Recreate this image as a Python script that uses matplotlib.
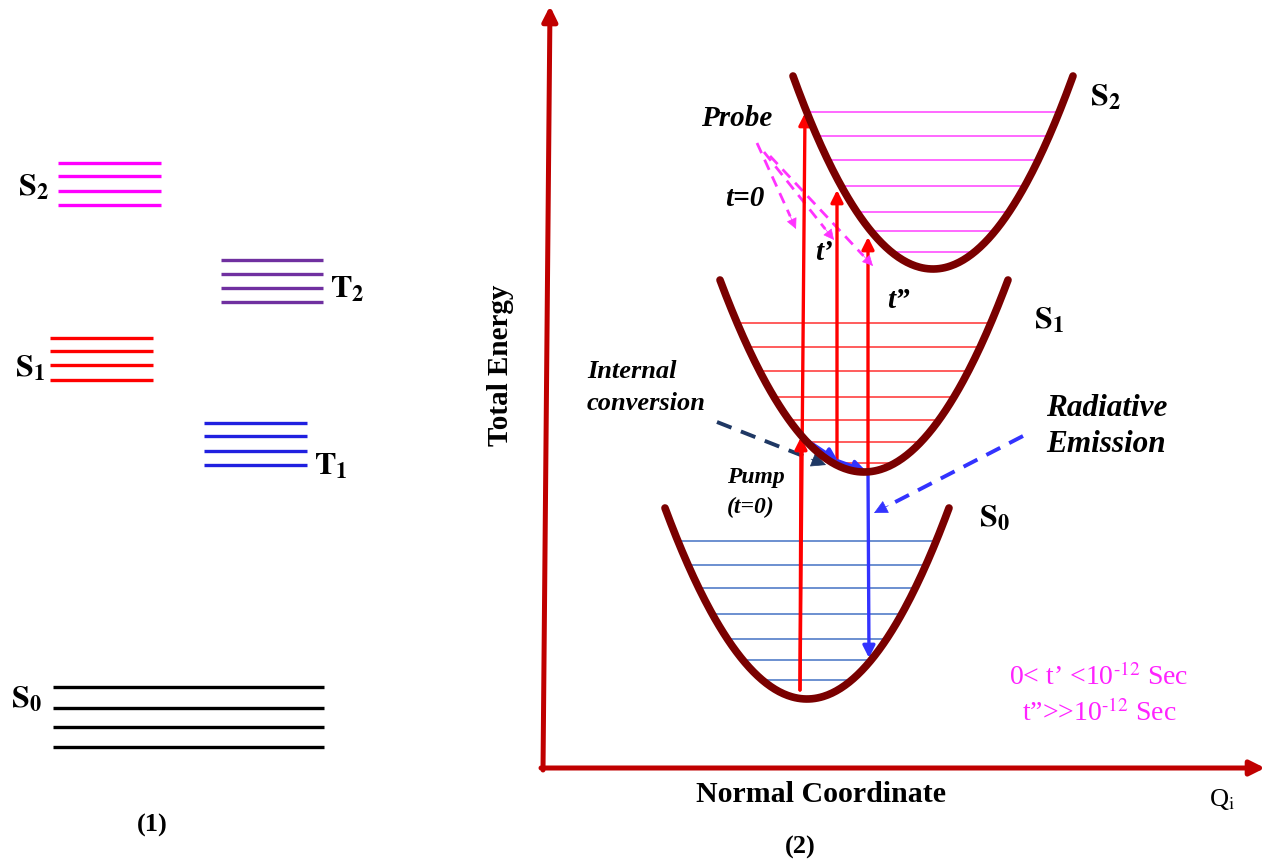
import numpy as np
import matplotlib
matplotlib.use("Agg")
import matplotlib.pyplot as plt

plt.rcParams['font.family'] = ['Liberation Serif', 'DejaVu Serif']
plt.rcParams['mathtext.fontset'] = 'stix'

# ---- panel (1): Jablonski levels (energy = vertical position) ----
s2_levels = [163, 176, 191, 205]
t2_levels = [260, 274, 288, 302]
s1_levels = [338, 351, 365, 380]
t1_levels = [423, 436, 451, 465]
s0_levels = [687, 708, 727, 747]
s2_span = [58, 161]
t2_span = [221, 323]
s1_span = [50, 153]
t1_span = [204, 307]
s0_span = [53, 324]

# ---- panel (2): potential wells and vibrational levels ----
well_names = ['S0', 'S1', 'S2']
well_min_q = [807, 864, 933]
well_min_e = [699, 472, 269]
well_top_e = [508, 280, 76]
well_half = [142, 144, 140]
vib_s0 = [541, 565, 588, 614, 639, 660, 680]
vib_s1 = [323, 347, 371, 397, 420, 442, 463]
vib_s2 = [112, 136, 160, 186, 212, 231, 252]

# transitions (q, start energy, end energy)
pump_q = [800, 805]
pump_e = [690, 113]
probe_q = [837, 868]
probe_start = [463, 472]
probe_end = [190, 237]
emission_q = 868
emission_e = [472, 658]

fig = plt.figure(figsize=(12.7, 8.61), dpi=100)
ax = fig.add_axes([0, 0, 1, 1])
ax.set_xlim(0, 1270)
ax.set_ylim(861, 0)
ax.axis('off')


def arrow(p0, p1, color, lw=2.2, ms=18, ls='-'):
    if ls == '-':
        ax.annotate('', xy=p1, xytext=p0,
                    arrowprops=dict(arrowstyle='-|>', color=color, lw=lw,
                                    mutation_scale=ms, shrinkA=0, shrinkB=0))
    else:
        d = np.array(p1, float) - np.array(p0, float)
        d = d / np.hypot(*d)
        back = np.array(p1) - d * 14
        ax.plot([p0[0], back[0]], [p0[1], back[1]], color=color, lw=lw,
                ls=(0, (4, 2.6)), solid_capstyle='butt')
        ax.annotate('', xy=p1, xytext=tuple(np.array(p1) - d * 16),
                    arrowprops=dict(arrowstyle='-|>', color=color, lw=0.5,
                                    mutation_scale=ms, shrinkA=0, shrinkB=0))


# panel (1)
for levels, span, col in [(s2_levels, s2_span, '#FF00FF'),
                          (t2_levels, t2_span, '#7030A0'),
                          (s1_levels, s1_span, '#FF0000'),
                          (t1_levels, t1_span, '#2020E0'),
                          (s0_levels, s0_span, '#000000')]:
    for y in levels:
        ax.plot(span, [y, y], color=col, lw=2.4, solid_capstyle='butt')

lab = dict(fontsize=23, fontweight='bold', ha='center', va='center')
ax.text(34, 188, r'$\mathbf{S_2}$', **lab)
ax.text(347, 290, r'$\mathbf{T_2}$', **lab)
ax.text(30, 369, r'$\mathbf{S_1}$', **lab)
ax.text(331, 467, r'$\mathbf{T_1}$', **lab)
ax.text(26, 700, r'$\mathbf{S_0}$', **lab)
ax.text(152, 825, '(1)', fontsize=19, fontweight='bold', ha='center', va='center')

# panel (2) axes
ax.annotate('', xy=(550, 6), xytext=(543, 770),
            arrowprops=dict(arrowstyle='-|>', color='#C00000', lw=3.6,
                            mutation_scale=22, shrinkA=0, shrinkB=0))
ax.annotate('', xy=(1265, 768), xytext=(541, 768),
            arrowprops=dict(arrowstyle='-|>', color='#C00000', lw=3.6,
                            mutation_scale=22, shrinkA=0, shrinkB=0))
ax.text(500, 365, 'Total Energy', rotation=90, fontsize=21, fontweight='bold',
        ha='center', va='center')
ax.text(821, 795, 'Normal Coordinate', fontsize=21.5, fontweight='bold',
        ha='center', va='center')
ax.text(1222, 800, r'Q$_\mathrm{i}$', fontsize=19, ha='center', va='center')
ax.text(800, 847, '(2)', fontsize=19, fontweight='bold', ha='center', va='center')

# wells and vibrational levels
vib_sets = [vib_s0, vib_s1, vib_s2]
vib_cols = ['#4472C4', '#FF3030', '#FF40FF']
for i in range(3):
    q0, e0, et, h = well_min_q[i], well_min_e[i], well_top_e[i], well_half[i]
    k = (e0 - et) / h ** 2
    for e in vib_sets[i]:
        dq = np.sqrt((e0 - e) / k)
        ax.plot([q0 - dq, q0 + dq], [e, e], color=vib_cols[i], lw=1.1)
    q = np.linspace(q0 - h, q0 + h, 200)
    ax.plot(q, e0 - k * (q - q0) ** 2, color='#7A0000', lw=5.5,
            solid_capstyle='round', zorder=5)

ax.text(1106, 98, r'$\mathbf{S_2}$', **lab)
ax.text(1049, 321, r'$\mathbf{S_1}$', **lab)
ax.text(994, 519, r'$\mathbf{S_0}$', **lab)

# pump and probe arrows
arrow((pump_q[0], pump_e[0]), (pump_q[1], pump_e[1]), '#FF0000', lw=2.4)
arrow((pump_q[0], pump_e[0]), (801, 437), '#FF0000', lw=2.4)
for q, e0, e1 in zip(probe_q, probe_start, probe_end):
    arrow((q, e0), (q, e1), '#FF0000', lw=2.4)

# internal conversion along S1 and radiative emission
arrow((802, 437), (838, 461), '#3333FF', lw=2.6, ms=18)
arrow((838, 461), (866, 471), '#3333FF', lw=2.6, ms=18)
arrow((emission_q, emission_e[0]), (emission_q + 1, emission_e[1]), '#3333FF', lw=2.4)

# dashed pointers
arrow((717, 422), (826, 465), '#1F3864', lw=2.8, ms=24, ls='--')
arrow((1023, 436), (874, 513), '#3333FF', lw=2.8, ms=22, ls='--')
arrow((757, 143), (796, 229), '#FF33FF', lw=2.0, ms=17, ls='--')
arrow((764, 152), (834, 240), '#FF33FF', lw=2.0, ms=17, ls='--')
arrow((770, 156), (873, 266), '#FF33FF', lw=2.0, ms=17, ls='--')

it = dict(fontweight='bold', style='italic', va='center')
ax.text(737, 118, 'Probe', fontsize=21, ha='center', **it)
ax.text(745, 198, 't=0', fontsize=21, ha='center', **it)
ax.text(824, 252, 't\u2019', fontsize=21, ha='center', **it)
ax.text(898, 300, 't\u201d', fontsize=21, ha='center', **it)
ax.text(587, 372, 'Internal', fontsize=19, ha='left', **it)
ax.text(587, 403, 'conversion', fontsize=19, ha='left', **it)
ax.text(727, 478, 'Pump', fontsize=17, ha='left', **it)
ax.text(727, 507, '(t=0)', fontsize=17, ha='left', **it)
ax.text(1046, 408, 'Radiative', fontsize=22.5, ha='left', **it)
ax.text(1046, 445, 'Emission', fontsize=22.5, ha='left', **it)

ax.text(1099, 677, '0< t\u2019 <10$^{\\text{-12}}$ Sec', fontsize=20,
        color='#FF22FF', ha='center', va='center')
ax.text(1099, 713, 't\u201d>>10$^{\\text{-12}}$ Sec', fontsize=20,
        color='#FF22FF', ha='center', va='center')

fig.savefig('out.png', dpi=100)
